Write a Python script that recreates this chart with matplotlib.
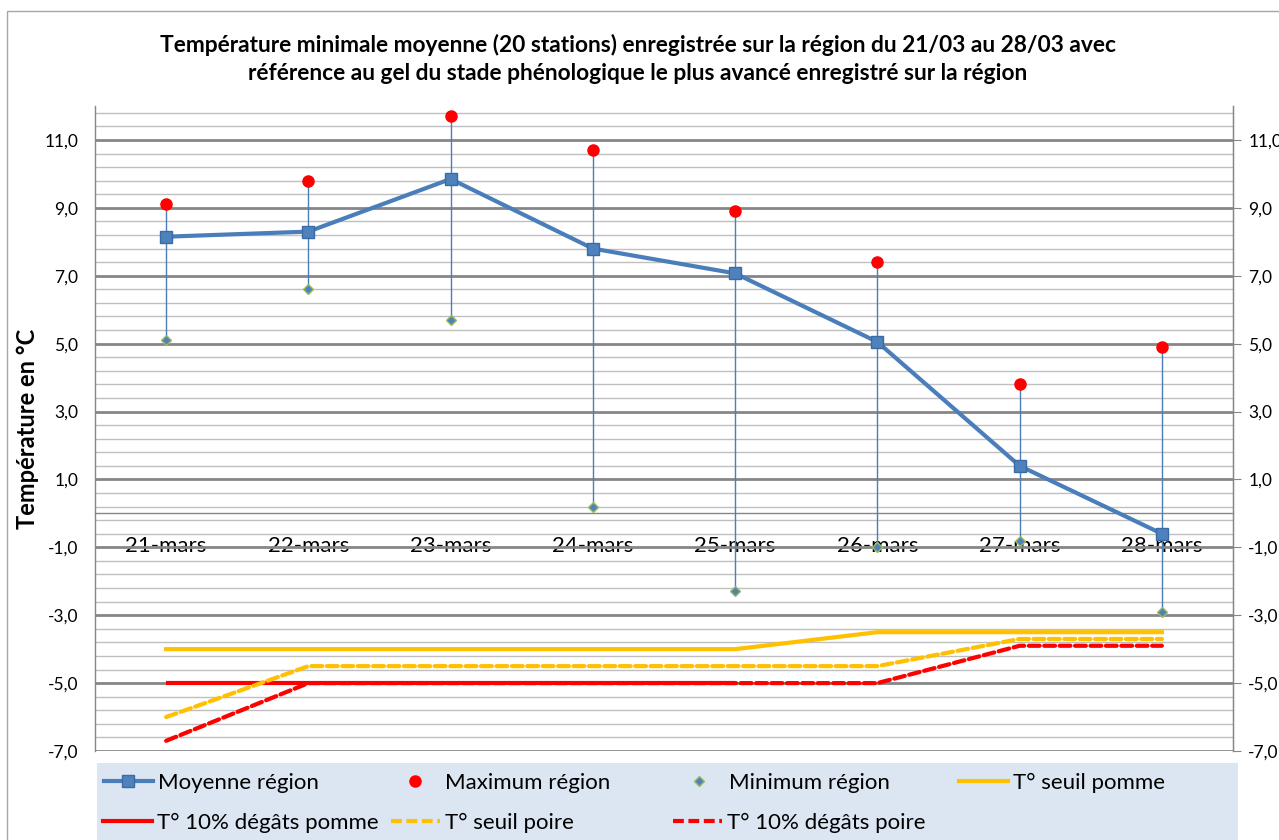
import numpy as np
import matplotlib
matplotlib.use("Agg")
import matplotlib.pyplot as plt
from matplotlib.lines import Line2D
from matplotlib.patches import Rectangle
from matplotlib.ticker import MultipleLocator, FuncFormatter

plt.rcParams['font.family'] = ['Lato', 'DejaVu Sans']

# data
days = ["21-mars", "22-mars", "23-mars", "24-mars", "25-mars", "26-mars", "27-mars", "28-mars"]
moyenne = [8.15, 8.3, 9.85, 7.8, 7.07, 5.05, 1.4, -0.6]
maximum = [9.1, 9.8, 11.7, 10.7, 8.9, 7.4, 3.8, 4.9]
minimum = [5.1, 6.6, 5.7, 0.2, -2.3, -1.0, -0.8, -2.9]
seuil_pomme = [-4.0, -4.0, -4.0, -4.0, -4.0, -3.5, -3.5, -3.5]
degats_pomme = [-5.0, -5.0, -5.0, -5.0, -5.0, np.nan, np.nan, np.nan]
seuil_poire = [-6.0, -4.5, -4.5, -4.5, -4.5, -4.5, -3.7, -3.7]
degats_poire = [-6.7, -5.0, -5.0, -5.0, -5.0, -5.0, -3.9, -3.9]

blue = "#4A7EBB"
yellow = "#FFC000"
red = "#FF0000"

fig = plt.figure(figsize=(12.79, 8.40), dpi=100)
W, H = 1279, 840

# outer chart border
fig.patches.append(Rectangle((7 / W, -0.1), 1.2, (840 - 11) / H + 0.1, transform=fig.transFigure,
                             fill=False, edgecolor="#A6A6A6", lw=1.0))

ax = fig.add_axes([95 / W, (H - 751) / H, (1233 - 95) / W, (751 - 106) / H])
x = np.arange(len(days))

fmt = FuncFormatter(lambda v, p: f"{v:.1f}".replace(".", ","))
ax.set_ylim(-7, 12)
ax.set_xlim(-0.5, len(days) - 0.5)
ax.yaxis.set_major_locator(MultipleLocator(2, offset=1))
ax.yaxis.set_minor_locator(MultipleLocator(0.4, offset=0.2))
ax.yaxis.set_major_formatter(fmt)
ax.grid(axis="y", which="minor", color="#BFBFBF", lw=1.0, zorder=0)
ax.grid(axis="y", which="major", color="#868686", lw=2.0, zorder=0)
ax.set_axisbelow(True)
ax.tick_params(axis="y", which="both", length=0, labelsize=12.5, pad=12)

# category axis crosses at 0
ax.spines["bottom"].set_position(("data", 0))
ax.spines["bottom"].set_color("#868686")
ax.spines["bottom"].set_linewidth(1.0)
ax.spines["top"].set_visible(False)
for s in ("left", "right"):
    ax.spines[s].set_color("#868686")
    ax.spines[s].set_linewidth(1.0)
ax.set_xticks(x)
ax.set_xticklabels(days, fontsize=16)
ax.tick_params(axis="x", length=0, pad=16)

# high-low lines
ax.vlines(x, minimum, maximum, color=blue, lw=1.0, zorder=3)

ax.plot(x, degats_pomme, color=red, lw=3, solid_capstyle="butt", zorder=4)
ax.plot(x, seuil_pomme, color=yellow, lw=3, zorder=4)
ax.plot(x, seuil_poire, color=yellow, lw=3, dashes=(2.6, 1.1), dash_capstyle="round", zorder=4)
ax.plot(x, degats_poire, color=red, lw=3, dashes=(2.6, 1.1), dash_capstyle="round", zorder=4)

ax.plot(x, moyenne, color=blue, lw=3, marker="s", ms=9, mfc="#4F81BD", mec="#3A6BA5", zorder=5)
ax.plot(x, maximum, ls="none", marker="o", ms=8, mfc=red, mec=red, zorder=6)
ax.plot(x, minimum, ls="none", marker="D", ms=5, mfc="#4F81BD", mec="#9BBB59", mew=1, zorder=6)

ax.set_ylabel("Température en °C", fontsize=17, fontweight="bold", labelpad=4)

# secondary axis on the right with the same scale
ax2 = ax.twinx()
ax2.set_ylim(ax.get_ylim())
ax2.yaxis.set_major_locator(MultipleLocator(2, offset=1))
ax2.yaxis.set_major_formatter(fmt)
ax2.tick_params(axis="y", length=6, color="#868686", labelsize=12.5, pad=5)
for s in ("top", "bottom", "left"):
    ax2.spines[s].set_visible(False)
ax2.spines["right"].set_color("#868686")

fig.text(638 / W, 1 - 45 / H, "Température minimale moyenne (20 stations) enregistrée sur la région du 21/03 au 28/03 avec",
         ha="center", va="center", fontsize=16.4, fontweight="bold")
fig.text(638 / W, 1 - 73 / H, "référence au gel du stade phénologique le plus avancé enregistré sur la région",
         ha="center", va="center", fontsize=16.4, fontweight="bold")

# legend box
fig.patches.append(Rectangle((97 / W, -0.01), (1238 - 97) / W, (840 - 763) / H + 0.01,
                             transform=fig.transFigure, facecolor="#DCE6F2", edgecolor="none"))
entries = [
    (Line2D([], [], color=blue, lw=3, marker="s", ms=9, mfc="#4F81BD", mec="#3A6BA5"), "Moyenne région", 104, 783),
    (Line2D([], [], ls="none", marker="o", ms=8, mfc=red, mec=red), "Maximum région", 391, 783),
    (Line2D([], [], ls="none", marker="D", ms=5, mfc="#4F81BD", mec="#9BBB59"), "Minimum région", 675, 783),
    (Line2D([], [], color=yellow, lw=3), "T° seuil pomme", 959, 783),
    (Line2D([], [], color=red, lw=3), "T° 10% dégâts pomme", 103, 823),
    (Line2D([], [], color=yellow, lw=3, dashes=(2.6, 1.1)), "T° seuil poire", 391, 823),
    (Line2D([], [], color=red, lw=3, dashes=(2.6, 1.1)), "T° 10% dégâts poire", 673, 823),
]
for h, lab, lx, ly in entries:
    fig.legend([h], [lab], loc="center left", bbox_to_anchor=(lx / W, 1 - ly / H),
               frameon=False, fontsize=16, borderpad=0, borderaxespad=0,
               handlelength=2.2, handletextpad=0.25)

fig.savefig("out.png", dpi=100)
